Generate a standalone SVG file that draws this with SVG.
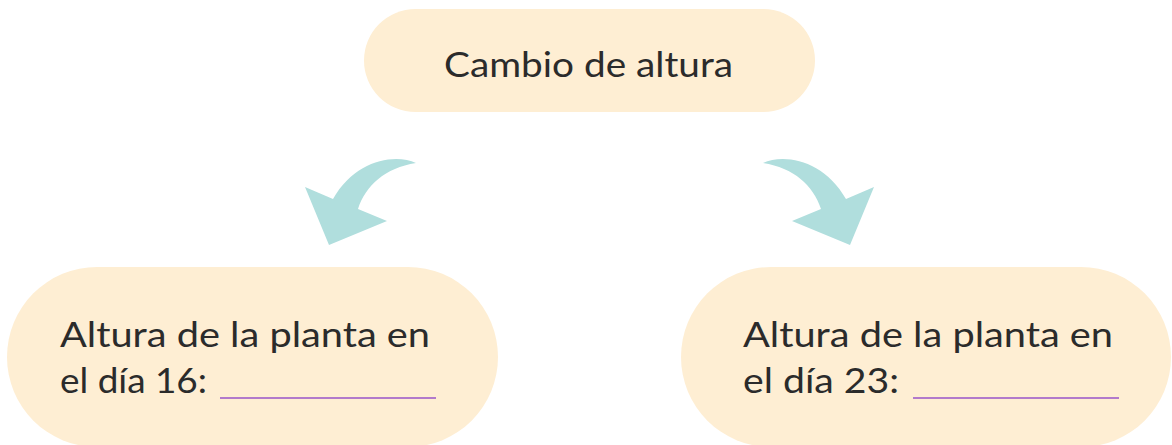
<svg xmlns="http://www.w3.org/2000/svg" width="1172" height="445" viewBox="0 0 1172 445">
<style>
.pill{fill:#feeed3}
.t{font-family:Lato,"Open Sans",sans-serif;fill:#2b2b2b;font-size:34px}
.u{stroke:#b27acb;stroke-width:2}
.arr{fill:#b0dedd}
</style>
<defs>
<path id="arrowL" d="M416,163 C395,153 355,160 333,199 L305,187 L329,245 L387,221 L358,209 C366,185 385,168 416,163 Z"/>
</defs>
<rect width="1172" height="445" fill="#ffffff"/>
<g id="node-top">
<rect class="pill" x="364" y="9" width="451" height="103" rx="51.5"/>
<text class="t" x="444" y="77" textLength="289" lengthAdjust="spacingAndGlyphs">Cambio de altura</text>
</g>
<g id="node-left">
<rect class="pill" x="7" y="267" width="491" height="180" rx="90"/>
<text class="t" x="60" y="347" textLength="370" lengthAdjust="spacingAndGlyphs">Altura de la planta en</text>
<text class="t" x="60" y="393" textLength="147" lengthAdjust="spacingAndGlyphs">el día 16:</text>
<line class="u" x1="220" y1="398" x2="436" y2="398"/>
</g>
<g id="node-right">
<rect class="pill" x="681" y="267" width="490" height="180" rx="90"/>
<text class="t" x="743" y="347" textLength="370" lengthAdjust="spacingAndGlyphs">Altura de la planta en</text>
<text class="t" x="743" y="393" textLength="156" lengthAdjust="spacingAndGlyphs">el día 23:</text>
<line class="u" x1="913" y1="398" x2="1119" y2="398"/>
</g>
<g id="connectors">
<use href="#arrowL" class="arr"/>
<use href="#arrowL" class="arr" transform="translate(1179,0) scale(-1,1)"/>
</g>
</svg>
